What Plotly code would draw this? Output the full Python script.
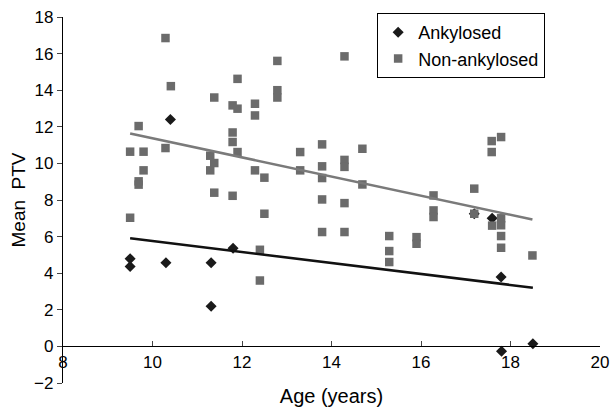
import numpy as np
import plotly.graph_objects as go

# Ankylosed
ank_age = [9.5, 9.5, 10.3, 10.4, 11.31, 11.31, 11.8, 17.19, 17.59, 17.79, 17.8, 18.5]
ank_ptv = [4.79, 4.37, 4.57, 12.4, 4.57, 2.19, 5.36, 7.25, 7.0, 3.79, -0.26, 0.15]

# Non-ankylosed
non_age = [9.5, 9.5, 9.69, 9.69, 9.69, 9.8, 9.8, 10.29, 10.29, 10.41,
           11.29, 11.38, 11.29, 11.38, 11.38, 11.79, 11.9, 11.9, 11.79, 11.79,
           11.9, 11.79, 12.29, 12.29, 12.29, 12.5, 12.5, 12.4, 12.4, 12.79,
           12.79, 12.79, 13.3, 13.3, 13.79, 13.79, 13.79, 13.79, 13.79, 14.29,
           14.29, 14.29, 14.29, 14.29, 14.69, 14.69, 15.29, 15.29, 15.29, 15.9,
           15.9, 16.28, 16.28, 16.28, 17.19, 17.19, 17.58, 17.58, 17.79, 17.59,
           17.79, 17.79, 17.79, 17.79, 18.49]
non_ptv = [10.64, 7.03, 12.04, 9.02, 8.84, 10.64, 9.62, 16.85, 10.84, 14.22,
           10.42, 10.02, 9.62, 13.6, 8.4, 13.17, 12.99, 14.62, 11.69, 11.17,
           10.62, 8.23, 13.26, 12.62, 9.62, 9.22, 7.25, 5.28, 3.6, 15.6,
           14.0, 13.6, 10.62, 9.62, 11.04, 9.84, 9.2, 8.03, 6.25, 15.85,
           10.19, 9.81, 7.83, 6.25, 10.8, 8.85, 6.03, 5.21, 4.61, 5.97,
           5.61, 8.25, 7.43, 7.07, 8.62, 7.25, 11.22, 10.62, 11.44, 6.6,
           7.0, 6.62, 6.03, 5.39, 4.97]

x_ticks = [8, 10, 12, 14, 16, 18, 20]
y_ticks = [-2, 0, 2, 4, 6, 8, 10, 12, 14, 16, 18]
y_tick_text = ["\u22122" if v < 0 else str(v) for v in y_ticks]


def trend(xs, ys):
    m, b = np.polyfit(xs, ys, 1)
    xr = np.array([min(xs), max(xs)])
    return xr, m * xr + b


FONT = "Liberation Sans, Arial, sans-serif"
GRAY = "#6b6b6b"

fig = go.Figure()
fig.add_trace(go.Scatter(x=ank_age, y=ank_ptv, mode="markers", name="Ankylosed",
                         marker=dict(symbol="diamond", size=8.5, color="#1a1a1a")))
fig.add_trace(go.Scatter(x=non_age, y=non_ptv, mode="markers", name="Non-ankylosed",
                         marker=dict(symbol="square", size=8.5, color=GRAY)))
ax, ay = trend(ank_age, ank_ptv)
fig.add_trace(go.Scatter(x=ax, y=ay, mode="lines", showlegend=False,
                         line=dict(color="#111111", width=2.6)))
nx, ny = trend(non_age, non_ptv)
fig.add_trace(go.Scatter(x=nx, y=ny, mode="lines", showlegend=False,
                         line=dict(color="#7a7a7a", width=2.6)))

fig.update_layout(
    width=613, height=415,
    margin=dict(l=63, r=13, t=17, b=32, autoexpand=False),
    plot_bgcolor="white", paper_bgcolor="white",
    font=dict(family=FONT, color="black", size=17),
    showlegend=True,
    legend=dict(x=0.585, y=1.011, xanchor="left", yanchor="top",
                bordercolor="black", borderwidth=1, bgcolor="white",
                font=dict(size=18, family=FONT), tracegroupgap=0,
                itemwidth=30),
    xaxis=dict(range=[8, 20], tickvals=x_ticks, ticks="inside", ticklen=5,
               showline=True, linecolor="black", linewidth=1.3,
               showgrid=False, zeroline=False, anchor="free", position=0.1,
               tickfont=dict(size=17), ticklabeloverflow="allow",
               title=dict(text="Age (years)", font=dict(size=20), standoff=18)),
    yaxis=dict(range=[-2, 18], tickvals=y_ticks, ticktext=y_tick_text,
               ticks="outside", ticklen=5, ticklabeloverflow="allow",
               showline=True, linecolor="black", linewidth=1.3,
               showgrid=False, zeroline=False, tickfont=dict(size=17),
               title=dict(text="Mean\u00a0 PTV", font=dict(size=19), standoff=3)),
)

fig.write_html(
    "out.html",
    config={"displayModeBar": False},
    post_script="document.body.style.margin='0';document.body.style.overflow='hidden';",
)
